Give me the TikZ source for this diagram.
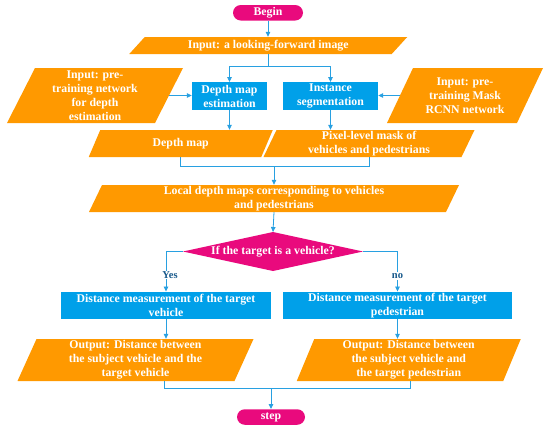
\documentclass[tikz,border=0pt]{standalone}
\usepackage{fontspec}
\setmainfont{Liberation Serif}
\usetikzlibrary{arrows.meta,calc}
\definecolor{orng}{RGB}{255,153,0}
\definecolor{bluebox}{RGB}{0,160,233}
\definecolor{pinkc}{RGB}{233,10,125}
\definecolor{linec}{RGB}{40,160,225}
\definecolor{lblc}{RGB}{25,90,140}
\newcommand\parag[7]{%
  \fill[orng] (#2-#4+#6,#3-#5) -- (#2+#4+#6,#3-#5) -- (#2+#4-#6,#3+#5) -- (#2-#4-#6,#3+#5) -- cycle;
  \node[txt,minimum width=2*#4,minimum height=2*#5] (#1) at (#2,#3) {#7};
}
\begin{document}
\begin{tikzpicture}[x=1pt,y=-1pt,
  txt/.style={text=white,font=\fontsize{11.8}{14}\selectfont\bfseries,align=center,inner sep=0pt},
  bbox/.style={txt,fill=bluebox,minimum height=27.5},
  pill/.style={txt,fill=pinkc,minimum height=15.5,rounded corners=7.75},
  conn/.style={draw=linec,line width=0.8pt},
  arr/.style={conn,-{Triangle[length=5pt,width=4.5pt]}},
  lbl/.style={text=lblc,font=\fontsize{10.5}{12}\selectfont\bfseries,fill=white,inner sep=1pt}
]
\useasboundingbox (0,0) rectangle (550,432);
% start
\node[pill,minimum width=70] (begin) at (268,12.75) {Begin};
\parag{inimg}{268.25}{45.5}{131.25}{8.5}{7.75}{Input: a looking-forward image}
% inputs and processes
\parag{linp}{95}{95.5}{74}{27.5}{14}{Input: pre-\\training network\\for depth\\estimation}
\parag{rinp}{465}{95.5}{65}{27.5}{13}{Input: pre-\\training Mask\\RCNN network}
\node[bbox,minimum width=75] (dme) at (229.5,96) {Depth map\\estimation};
\node[bbox,minimum width=95] (ise) at (330.5,96) {Instance\\segmentation};
% outputs of stage 1
\parag{dmp}{180.75}{143.5}{86.25}{13.5}{5.75}{Depth map}
\parag{pix}{369}{143.5}{99}{13.5}{6.5}{Pixel-level mask of\\vehicles and pedestrians}
\parag{local}{274}{198.5}{178.5}{13.5}{6.5}{Local depth maps corresponding to vehicles\\and pedestrians}
% decision
\fill[pinkc] (273,232) -- (363,251.5) -- (273,271) -- (183,251.5) -- cycle;
\coordinate (diaT) at (273,232);
\coordinate (diaL) at (183,251.5);
\coordinate (diaR) at (363,251.5);
\node[txt] (dia) at (273,251.5) {If the target is a vehicle?};
\node[bbox,minimum width=210] (vbox) at (166,305.5) {Distance measurement of the target\\vehicle};
\node[bbox,minimum width=229] (pbox) at (397.5,305.5) {Distance measurement of the target\\pedestrian};
\parag{outL}{135.5}{360}{108.5}{21}{9.5}{Output: Distance between\\the subject vehicle and the\\target vehicle}
\parag{outR}{408.75}{360}{103.25}{21}{8.75}{Output: Distance between\\the subject vehicle and\\the target pedestrian}
\node[pill,minimum width=68] (stop) at (271,417) {step};
% connectors
\draw[arr] (begin.south) -- (begin.south |- inimg.north);
\draw[conn] (inimg.south) -- ++(0,12.5) coordinate (j0);
\draw[arr] (j0) -| (dme.north);
\draw[arr] (j0) -| (ise.north);
\draw[arr] (linp.east) -- (linp.east -| dme.west);
\draw[arr] (rinp.west) -- (rinp.west -| ise.east);
\draw[arr] (dme.south) -- (dme.south |- dmp.north);
\draw[arr] (ise.south) -- (ise.south |- pix.north);
\draw[conn] (dmp.south) -- ++(0,9) -| (pix.south);
\coordinate (j1) at (274,166);
\draw[arr] (j1) -- (local.north);
\draw[arr] (local.south) -- (diaT);
\draw[arr] (diaL) -| (vbox.north);
\draw[arr] (diaR) -| (pbox.north);
\node[lbl] (yes) at (170,275) {Yes};
\node[lbl] (no) at (397.5,276) {no};
\draw[arr] (vbox.south) -- (vbox.south |- outL.north);
\draw[arr] (pbox.south) -- (pbox.south |- outR.north);
\coordinate (oL) at ($(outL.south)+(28.5,0)$);
\coordinate (oR) at ($(outR.south)+(2,0)$);
\draw[conn] (oL) -- ++(0,7) -| (oR);
\coordinate (j2) at (271,388);
\draw[arr] (j2) -- (stop.north);
\end{tikzpicture}
\end{document}
